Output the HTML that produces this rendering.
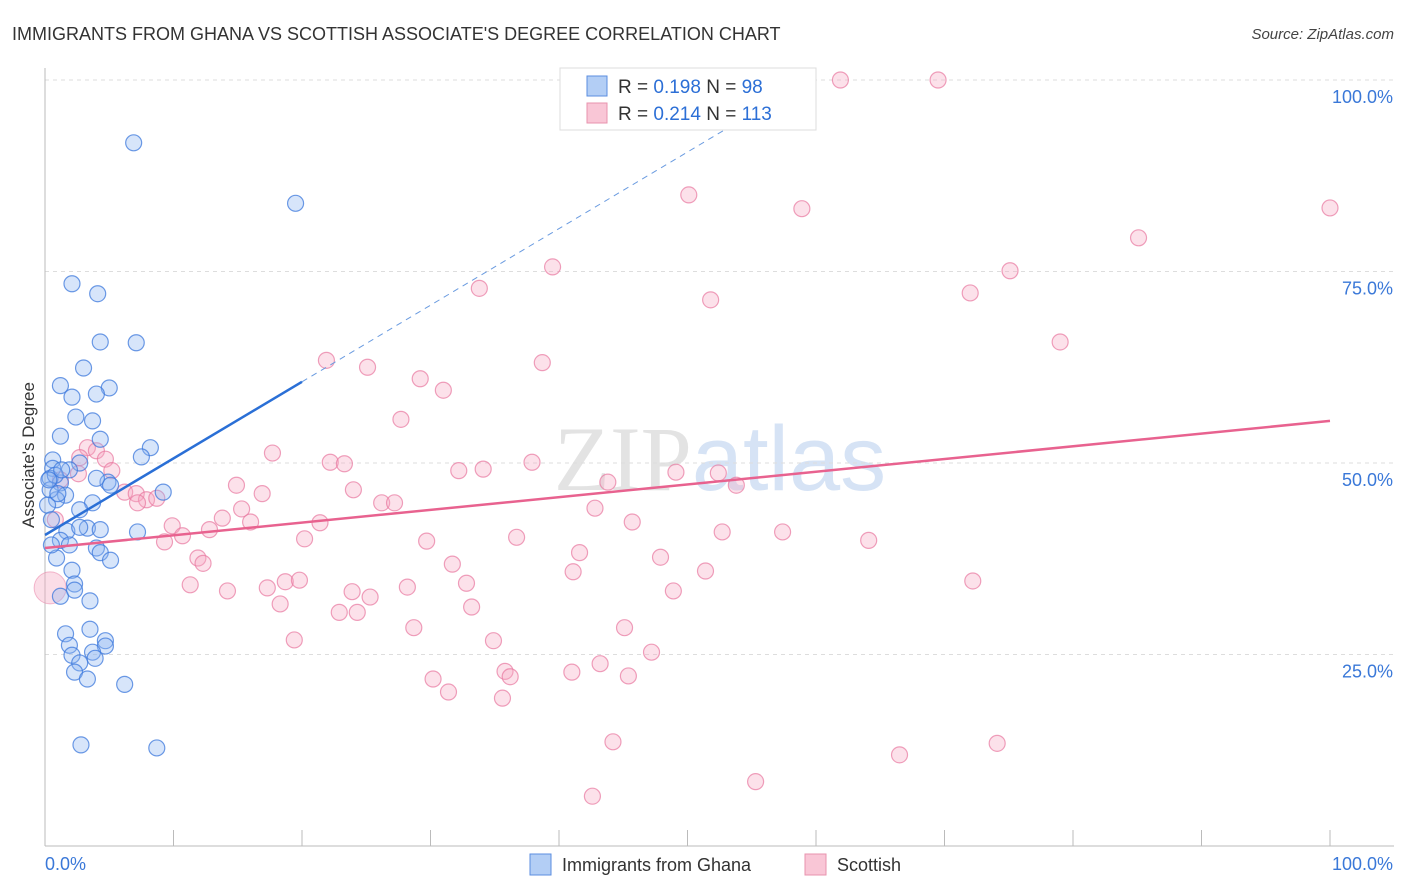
<!DOCTYPE html>
<html><head><meta charset="utf-8">
<style>
body{margin:0;background:#fff;font-family:"Liberation Sans",sans-serif;}
svg{display:block}
</style></head>
<body>
<svg id="chart" width="1406" height="892">
<text x="12" y="40" font-size="18" fill="#333">IMMIGRANTS FROM GHANA VS SCOTTISH ASSOCIATE'S DEGREE CORRELATION CHART</text>
<text x="1394" y="39" font-size="15" fill="#444" font-style="italic" text-anchor="end">Source: ZipAtlas.com</text>
<text x="720" y="490" font-size="92" fill="#e3e3e3" text-anchor="middle" font-family="Liberation Serif">ZIP<tspan fill="#d6e3f5" font-family="Liberation Sans">atlas</tspan></text>
<g id="grid"></g>
<g id="pts"></g>
<g id="lines"></g>
<text x="34" y="455" font-size="17" fill="#333" text-anchor="middle" transform="rotate(-90 34 455)">Associate's Degree</text>
<g>
<rect x="560" y="68" width="256" height="62" fill="#fff" stroke="#ddd"/>
<rect x="587" y="76" width="20" height="20" fill="#b3cef5" stroke="#5b8ee0"/>
<rect x="587" y="103" width="20" height="20" fill="#f9c6d6" stroke="#e893ae"/>
<text x="618" y="93" font-size="19" fill="#333">R = <tspan fill="#2c6fd6">0.198</tspan>   N = <tspan fill="#2c6fd6">98</tspan></text>
<text x="618" y="120" font-size="19" fill="#333">R = <tspan fill="#2c6fd6">0.214</tspan>   N = <tspan fill="#2c6fd6">113</tspan></text>
</g>
<g>
<rect x="530" y="854" width="21" height="21" fill="#b3cef5" stroke="#5b8ee0"/>
<text x="562" y="871" font-size="18" fill="#333">Immigrants from Ghana</text>
<rect x="805" y="854" width="21" height="21" fill="#f9c6d6" stroke="#e893ae"/>
<text x="837" y="871" font-size="18" fill="#333">Scottish</text>
</g>
</svg>
<script>
const yTicks=[25,50,75,100];
const yTickLabels=["25.0%","50.0%","75.0%","100.0%"];
const xTickLabels=["0.0%","100.0%"];
const blue=[[6.9,91.8],[19.5,83.9],[2.1,73.4],[4.1,72.1],[4.3,65.8],[7.1,65.7],[3.0,62.4],[1.2,60.1],[5.0,59.8],[2.1,58.6],[4.0,59.0],[2.4,56.0],[3.7,55.5],[1.2,53.5],[4.3,53.1],[8.2,52.0],[7.5,50.8],[0.6,50.4],[2.7,50.0],[9.2,46.2],[0.6,49.3],[4.9,47.5],[4.0,48.0],[1.9,49.1],[0.4,48.0],[1.2,47.4],[1.6,45.8],[3.7,44.8],[2.7,43.9],[0.9,45.2],[5.1,47.1],[3.3,41.5],[4.3,41.3],[7.2,41.0],[1.7,41.1],[2.7,41.6],[1.2,39.9],[1.9,39.3],[4.0,38.9],[4.3,38.3],[5.1,37.3],[0.9,37.6],[2.1,36.0],[2.3,34.2],[1.2,32.6],[2.3,33.4],[3.5,32.0],[3.5,28.3],[1.6,27.7],[1.9,26.2],[4.7,26.8],[4.7,26.1],[2.1,24.9],[3.7,25.3],[3.9,24.5],[2.7,23.9],[2.3,22.7],[3.3,21.8],[6.2,21.1],[2.8,13.2],[8.7,12.8],[0.4,46.5],[0.8,48.4],[1.3,49.1],[0.2,44.5],[0.5,39.3],[0.3,47.8],[1.0,46.0],[0.5,42.6]];
const pink=[[61.9,100],[69.5,100],[50.1,85.0],[58.9,83.2],[100,83.3],[85.1,79.4],[39.5,75.6],[75.1,75.1],[33.8,72.8],[51.8,71.3],[72.0,72.2],[79.0,65.8],[21.9,63.4],[38.7,63.1],[25.1,62.5],[29.2,61.0],[31.0,59.5],[27.7,55.7],[3.3,52.0],[4.0,51.6],[2.7,50.7],[17.7,51.3],[4.7,50.5],[22.2,50.1],[23.3,49.9],[37.9,50.1],[32.2,49.0],[34.1,49.2],[49.1,48.8],[52.4,48.7],[53.8,47.1],[43.8,47.5],[5.2,49.0],[2.6,48.6],[14.9,47.1],[24.0,46.5],[16.9,46.0],[26.2,44.8],[27.2,44.8],[6.2,46.2],[7.1,46.0],[7.9,45.2],[8.7,45.4],[7.2,44.8],[15.3,44.0],[13.8,42.8],[16.0,42.3],[42.8,44.1],[45.7,42.3],[21.4,42.2],[20.2,40.1],[12.8,41.3],[9.9,41.8],[10.7,40.5],[9.3,39.7],[29.7,39.8],[36.7,40.3],[52.7,41.0],[57.4,41.0],[64.1,39.9],[41.6,38.3],[47.9,37.7],[11.9,37.6],[12.3,36.9],[31.7,36.8],[41.1,35.8],[51.4,35.9],[11.3,34.1],[14.2,33.3],[17.3,33.7],[18.7,34.5],[19.8,34.7],[32.8,34.3],[28.2,33.8],[23.9,33.2],[25.3,32.5],[48.9,33.3],[72.2,34.6],[18.3,31.6],[22.9,30.5],[24.3,30.5],[33.2,31.2],[28.7,28.5],[45.1,28.5],[19.4,26.9],[34.9,26.8],[47.2,25.3],[35.8,22.8],[43.2,23.8],[41.0,22.7],[36.2,22.1],[45.4,22.2],[30.2,21.8],[31.4,20.1],[35.6,19.3],[44.2,13.6],[66.5,11.9],[74.1,13.4],[55.3,8.4],[42.6,6.5],[0.8,42.6],[1.2,47.8]];
const pinkBig=[[0.4,33.7]];
const blueTrend=[40.6,1.0];
const pinkTrend=[38.9,0.166];
const NS="http://www.w3.org/2000/svg";
const X=v=>45+v*12.85, Y=v=>846-v*7.66;
function mk(tag,attrs,parent){const e=document.createElementNS(NS,tag);for(const k in attrs)e.setAttribute(k,attrs[k]);parent.appendChild(e);return e;}
const grid=document.getElementById('grid'),pts=document.getElementById('pts'),lines=document.getElementById('lines'),svg=document.getElementById('chart');
yTicks.forEach((t,i)=>{
 const l=mk('line',{x1:45,x2:1394,y1:Y(t),y2:Y(t),stroke:'#ddd','stroke-dasharray':'4,4'},grid);
 
 
 const tx=mk('text',{x:1393,y:Y(t)+23,'font-size':18,fill:'#3a78d8','text-anchor':'end'},grid);
 tx.textContent=yTickLabels[i];
 
 
});
const ax=mk('line',{x1:45,x2:45,y1:68,y2:846,stroke:'#bbb'},grid);


const bx=mk('line',{x1:45,x2:1394,y1:846,y2:846,stroke:'#bbb'},grid);


for(let i=0;i<=10;i++){
 const t=mk('line',{x1:X(i*10),x2:X(i*10),y1:830,y2:846,stroke:'#bbb'},grid);
 
 
}
[[0,'start',45],[100,'end',1393]].forEach((a,i)=>{
 const t=mk('text',{x:a[2],y:870,'font-size':18,fill:'#3a78d8','text-anchor':a[1]},grid);
 t.textContent=xTickLabels[i];
 
 
});
pinkBig.forEach(p=>{
 const c=mk('circle',{cx:X(p[0]),cy:Y(p[1]),r:16,fill:'rgba(246,170,196,0.4)',stroke:'rgba(232,120,160,0.5)'},pts);
 
 
});
pink.forEach(p=>{
 const c=mk('circle',{cx:X(p[0]),cy:Y(p[1]),r:8,fill:'rgba(246,170,196,0.35)',stroke:'rgba(232,120,160,0.7)','stroke-width':1.2},pts);
 
 
});
blue.forEach(p=>{
 const c=mk('circle',{cx:X(p[0]),cy:Y(p[1]),r:8,fill:'rgba(140,180,240,0.35)',stroke:'rgba(60,120,220,0.75)','stroke-width':1.2},pts);
 
 
});
const bl=mk('line',{x1:X(0),y1:Y(blueTrend[0]),x2:X(20),y2:Y(blueTrend[0]+20*blueTrend[1]),stroke:'#2a6fd6','stroke-width':2.5},lines);


const bd=mk('line',{x1:X(20),y1:Y(blueTrend[0]+20*blueTrend[1]),x2:X(55),y2:Y(blueTrend[0]+55*blueTrend[1]),stroke:'#6a9be0','stroke-width':1,'stroke-dasharray':'6,5'},lines);


const pl=mk('line',{x1:X(0),y1:Y(pinkTrend[0]),x2:X(100),y2:Y(pinkTrend[0]+100*pinkTrend[1]),stroke:'#e8628f','stroke-width':2.5},lines);


</script>
</body></html>
